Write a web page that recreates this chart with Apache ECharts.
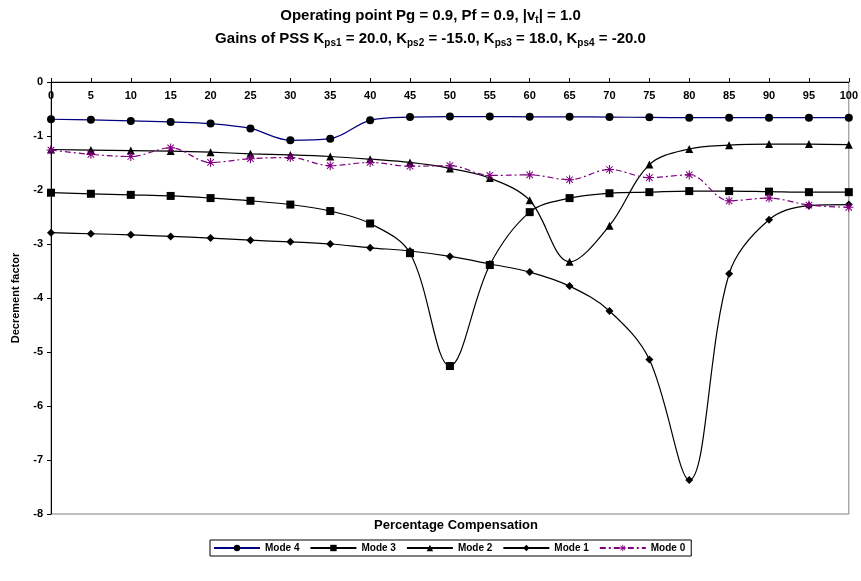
<!DOCTYPE html>
<html><head><meta charset="utf-8">
<script src="https://cdn.jsdelivr.net/npm/echarts@6/dist/echarts.min.js"></script>
<style>html,body{margin:0;padding:0;background:#fff}#c{width:861px;height:581px}</style>
</head><body><div id="c"></div>
<script>
var categories = [0,5,10,15,20,25,30,35,40,45,50,55,60,65,70,75,80,85,90,95,100];
var mode4 = [-0.69,-0.70,-0.72,-0.74,-0.77,-0.86,-1.08,-1.05,-0.71,-0.65,-0.64,-0.64,-0.645,-0.645,-0.65,-0.655,-0.66,-0.66,-0.66,-0.66,-0.66];
var mode3 = [-2.05,-2.07,-2.09,-2.11,-2.15,-2.20,-2.27,-2.39,-2.62,-3.17,-5.26,-3.39,-2.41,-2.15,-2.06,-2.04,-2.02,-2.02,-2.03,-2.04,-2.04];
var mode2 = [-1.25,-1.26,-1.27,-1.28,-1.30,-1.33,-1.35,-1.38,-1.43,-1.49,-1.60,-1.78,-2.19,-3.33,-2.66,-1.53,-1.24,-1.17,-1.15,-1.15,-1.16];
var mode1 = [-2.79,-2.81,-2.83,-2.86,-2.89,-2.93,-2.96,-3.00,-3.07,-3.13,-3.23,-3.37,-3.52,-3.78,-4.24,-5.14,-7.37,-3.55,-2.55,-2.29,-2.27];
var mode0 = [-1.26,-1.34,-1.38,-1.22,-1.49,-1.42,-1.40,-1.55,-1.49,-1.56,-1.55,-1.73,-1.72,-1.81,-1.62,-1.77,-1.72,-2.20,-2.15,-2.28,-2.32];
var yTicks = [0,-1,-2,-3,-4,-5,-6,-7,-8];

var FONT = 'Liberation Sans, Arial, sans-serif';
var star = 'path://M0,4.4L10,4.4L10,5.6L0,5.6Z M4.4,0L5.6,0L5.6,10L4.4,10Z M1,1.8L1.8,1L9,8.2L8.2,9Z M8.2,1L9,1.8L1.8,9L1,8.2Z';
var sub = {fontSize: 10, fontWeight: 'bold', fontFamily: FONT, color: '#000', padding: [8,0,0,0]};
var main = {fontSize: 15, fontWeight: 'bold', fontFamily: FONT, color: '#000'};

var chart = echarts.init(document.getElementById('c'), null, {renderer: 'canvas'});
function mk(name, data, symbol, size, lineColor, dash) {
  return {
    name: name, type: 'line', data: data, smooth: 0.35,
    symbol: symbol, symbolSize: size, showSymbol: true,
    lineStyle: {color: lineColor, width: 1.2, type: dash || 'solid'},
    itemStyle: symbol === star ? {color: '#800080', borderWidth: 0} : {color: '#000'},
    color: lineColor,
    emphasis: {disabled: true}, animation: false, z: 3
  };
}
chart.setOption({
  animation: false,
  backgroundColor: '#fff',
  title: [
    {text: '{m|Operating point Pg = 0.9, Pf = 0.9, |v}{s|t}{m|| = 1.0}', left: 'center', top: 2,
     textStyle: {rich: {m: main, s: sub}}},
    {text: '{m|Gains of PSS K}{s|ps1}{m| = 20.0, K}{s|ps2}{m| = -15.0, K}{s|ps3}{m| = 18.0, K}{s|ps4}{m| = -20.0}', left: 'center', top: 25,
     textStyle: {rich: {m: main, s: sub}}},
    {text: 'Percentage Compensation', left: 451, top: 514, textAlign: 'center',
     textStyle: {fontSize: 13, fontWeight: 'bold', fontFamily: FONT, color: '#000'}}
  ],
  grid: {left: 51, right: 10, top: 82, bottom: 67, show: true, borderColor: '#808080', borderWidth: 1, backgroundColor: 'transparent'},
  legend: {
    left: 210, top: 540, itemGap: 10, itemWidth: 46, itemHeight: 8,
    padding: [3, 6, 3, 3], borderColor: '#000', borderWidth: 1,
    textStyle: {fontSize: 10, fontWeight: 'bold', fontFamily: FONT, color: '#000'},
    data: ['Mode 4', 'Mode 3', 'Mode 2', 'Mode 1', 'Mode 0']
  },
  xAxis: {
    type: 'category', data: categories, boundaryGap: false, position: 'top',
    axisLine: {onZero: false, lineStyle: {color: '#000', width: 1}},
    axisTick: {show: true, inside: false, length: 4, alignWithLabel: true, lineStyle: {color: '#000'}},
    axisLabel: {inside: true, interval: 0, margin: 8, fontSize: 11, fontWeight: 'bold', fontFamily: FONT, color: '#000'},
    splitLine: {show: false}
  },
  yAxis: {
    type: 'value', min: -8, max: 0, interval: 1,
    name: 'Decrement factor', nameLocation: 'middle', nameGap: 30, nameRotate: 90,
    nameTextStyle: {fontSize: 11, fontWeight: 'bold', fontFamily: FONT, color: '#000'},
    axisLine: {show: true, lineStyle: {color: '#000', width: 1}},
    axisTick: {show: true, length: 4, lineStyle: {color: '#000'}},
    axisLabel: {fontSize: 11, fontWeight: 'bold', fontFamily: FONT, color: '#000', margin: 8,
      formatter: function(v){ return yTicks.indexOf(v) >= 0 ? String(v) : ''; }},
    splitLine: {show: false}
  },
  series: [
    mk('Mode 4', mode4, 'circle', 8, '#000080'),
    mk('Mode 3', mode3, 'rect', 8, '#000'),
    mk('Mode 2', mode2, 'triangle', 8, '#000'),
    mk('Mode 1', mode1, 'diamond', 8, '#000'),
    mk('Mode 0', mode0, star, 9, '#800080', [6, 3, 2, 3])
  ]
});
</script></body></html>
